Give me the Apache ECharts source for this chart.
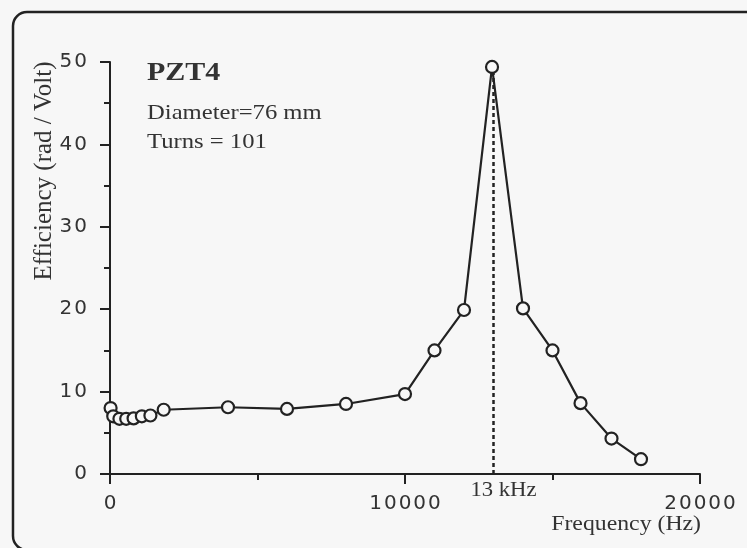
<!DOCTYPE html>
<html>
<head>
<meta charset="utf-8">
<script src="https://cdn.jsdelivr.net/npm/echarts@6/dist/echarts.min.js"></script>
<style>
  html, body { margin: 0; padding: 0; background: #f7f7f7; }
  #chart { width: 747px; height: 548px; }
</style>
</head>
<body>
<div id="chart"></div>
<script>
// Efficiency of a PZT4 coil vs drive frequency
const frequencyHz = [20, 110, 320, 550, 800, 1080, 1370, 1820, 4000, 6000, 8000, 10000,
                     11000, 12000, 12950, 14000, 15000, 15950, 17000, 18000];
const efficiency  = [8.0, 7.0, 6.7, 6.7, 6.75, 7.0, 7.1, 7.8, 8.1, 7.9, 8.5, 9.7,
                     15.0, 19.9, 49.4, 20.1, 15.0, 8.6, 4.3, 1.8];

// resonance marker
const resonanceHz = 13000;
const resonanceLabel = '13 kHz';
const resonanceTop = 49.4;

// axes
const xTicks = [0, 10000, 20000];
const yTicks = [0, 10, 20, 30, 40, 50];

const sampleName = 'PZT4';
const noteLines = ['Diameter=76 mm', 'Turns = 101'];
const xTitle = 'Frequency (Hz)';
const yTitle = 'Efficiency (rad / Volt)';

const ink = '#222222';
const serif = '"Liberation Serif", "Times New Roman", serif';
const sans = '"DejaVu Sans", Verdana, sans-serif';

// open up tick digits slightly with hair spaces
const spaced = v => String(v).split('').join('\u200A');

const chart = echarts.init(document.getElementById('chart'), null, { renderer: 'canvas' });

chart.setOption({
  backgroundColor: '#f7f7f7',
  animation: false,
  grid: { left: 110, right: 47, top: 62, bottom: 74 },
  xAxis: {
    type: 'value',
    min: xTicks[0],
    max: xTicks[xTicks.length - 1],
    interval: xTicks[1] - xTicks[0],
    axisLine: { show: true, onZero: false, lineStyle: { color: ink, width: 2 } },
    axisTick: { show: true, inside: false, length: 10, lineStyle: { color: ink, width: 2 } },
    minorTick: { show: true, splitNumber: 2, length: 6, lineStyle: { color: ink, width: 2 } },
    splitLine: { show: false },
    axisLabel: {
      margin: 20, color: '#333', fontFamily: sans, fontSize: 20,
      formatter: v => spaced(v)
    }
  },
  yAxis: {
    type: 'value',
    min: yTicks[0],
    max: yTicks[yTicks.length - 1],
    interval: yTicks[1] - yTicks[0],
    axisLine: { show: true, onZero: false, lineStyle: { color: ink, width: 2 } },
    axisTick: { show: true, inside: false, length: 10, lineStyle: { color: ink, width: 2 } },
    minorTick: { show: true, splitNumber: 2, length: 6, lineStyle: { color: ink, width: 2 } },
    splitLine: { show: false },
    axisLabel: {
      margin: 23, color: '#333', fontFamily: sans, fontSize: 20,
      formatter: v => spaced(v)
    }
  },
  series: [
    {
      // dashed guide at the resonance frequency
      type: 'line',
      z: 1,
      symbol: 'none',
      silent: true,
      data: [[resonanceHz, 0], [resonanceHz, resonanceTop]],
      lineStyle: { color: ink, width: 2.5, type: [4, 3] }
    },
    {
      type: 'line',
      z: 2,
      data: frequencyHz.map((f, i) => [f, efficiency[i]]),
      symbol: 'circle',
      symbolSize: 12,
      showAllSymbol: true,
      lineStyle: { color: ink, width: 2.2 },
      itemStyle: { color: '#f7f7f7', borderColor: ink, borderWidth: 2.2 }
    }
  ],
  graphic: [
    {
      type: 'rect',
      shape: { x: 13, y: 12, width: 900, height: 538, r: 14 },
      style: { fill: 'none', stroke: '#222', lineWidth: 2.5 },
      silent: true
    },
    {
      type: 'text',
      x: 147, y: 74,
      style: { text: sampleName, font: 'bold 25px ' + serif, fill: '#333', textVerticalAlign: 'middle' },
      scaleX: 1.2
    },
    {
      type: 'text',
      x: 147, y: 113,
      style: { text: noteLines[0], font: '22px ' + serif, fill: '#333', textVerticalAlign: 'middle' },
      scaleX: 1.12
    },
    {
      type: 'text',
      x: 147, y: 142,
      style: { text: noteLines[1], font: '22px ' + serif, fill: '#333', textVerticalAlign: 'middle' },
      scaleX: 1.12
    },
    {
      type: 'text',
      x: 701, y: 524,
      style: { text: xTitle, font: '22px ' + serif, fill: '#333', textAlign: 'right', textVerticalAlign: 'middle' },
      scaleX: 1.08
    },
    {
      type: 'text',
      x: 44, y: 171,
      rotation: Math.PI / 2,
      style: { text: yTitle, font: '25px ' + serif, fill: '#333', textAlign: 'center', textVerticalAlign: 'middle' }
    }
  ]
});

// frequency label under the resonance guide, placed from the axis scale
const foot = chart.convertToPixel({ gridIndex: 0 }, [resonanceHz, 0]);
chart.setOption({
  graphic: [{
    id: 'resonance-label',
    type: 'text',
    x: foot[0] + 10,
    y: foot[1] + 16,
    style: {
      text: resonanceLabel, font: '21px ' + serif, fill: '#333',
      textAlign: 'center', textVerticalAlign: 'middle'
    },
    scaleX: 1.08
  }]
});
</script>
</body>
</html>
